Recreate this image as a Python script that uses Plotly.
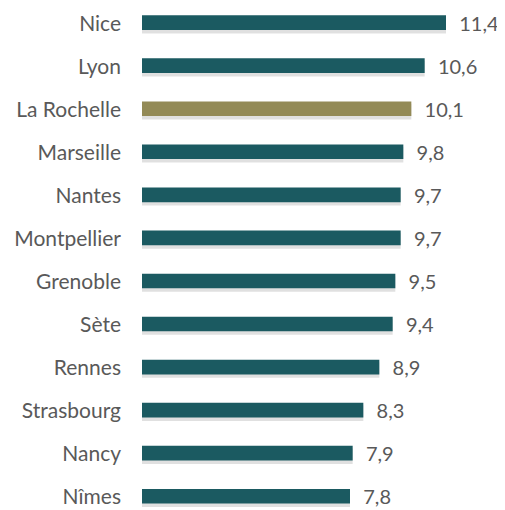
import plotly.graph_objects as go

cities = ["Nice", "Lyon", "La Rochelle", "Marseille", "Nantes", "Montpellier",
          "Grenoble", "Sète", "Rennes", "Strasbourg", "Nancy", "Nîmes"]
values = [11.4, 10.6, 10.1, 9.8, 9.7, 9.7, 9.5, 9.4, 8.9, 8.3, 7.9, 7.8]
highlight = "La Rochelle"

teal = "#1b5a61"
gold = "#938a56"
colors = [gold if c == highlight else teal for c in cities]

fig = go.Figure()
# soft shadow under the bars
fig.add_trace(go.Bar(
    y=cities, x=values, orientation="h", width=0.36, offset=-0.13,
    marker=dict(color="rgba(0,0,0,0.12)", line=dict(width=0)),
    hoverinfo="skip", showlegend=False,
))
fig.add_trace(go.Bar(
    y=cities, x=values, orientation="h", width=0.34, offset=-0.19,
    marker=dict(color=colors, line=dict(width=0)),
    text=[f"{v:.1f}".replace(".", ",") for v in values],
    texttemplate="  %{text}",
    textposition="outside",
    constraintext="none",
    textfont=dict(family="Lato, Open Sans, sans-serif", size=20, color="#595959"),
    cliponaxis=False,
    showlegend=False,
))

fig.update_layout(
    width=497, height=502,
    margin=dict(l=134, r=11, t=0, b=0, autoexpand=False),
    barmode="overlay",
    uniformtext=dict(mode=False),
    plot_bgcolor="white", paper_bgcolor="white",
    font=dict(family="Lato, Open Sans, sans-serif", color="#595959"),
    xaxis=dict(range=[0, 13.2], visible=False, showgrid=False, zeroline=False,
               automargin=False),
    yaxis=dict(type="category", range=[11.30, -0.36], showgrid=False, zeroline=False,
               showline=False, ticks="", ticklabelstandoff=20, automargin=False,
               tickfont=dict(family="Lato, Open Sans, sans-serif", size=21, color="#595959")),
)

fig.write_html("out.html")
